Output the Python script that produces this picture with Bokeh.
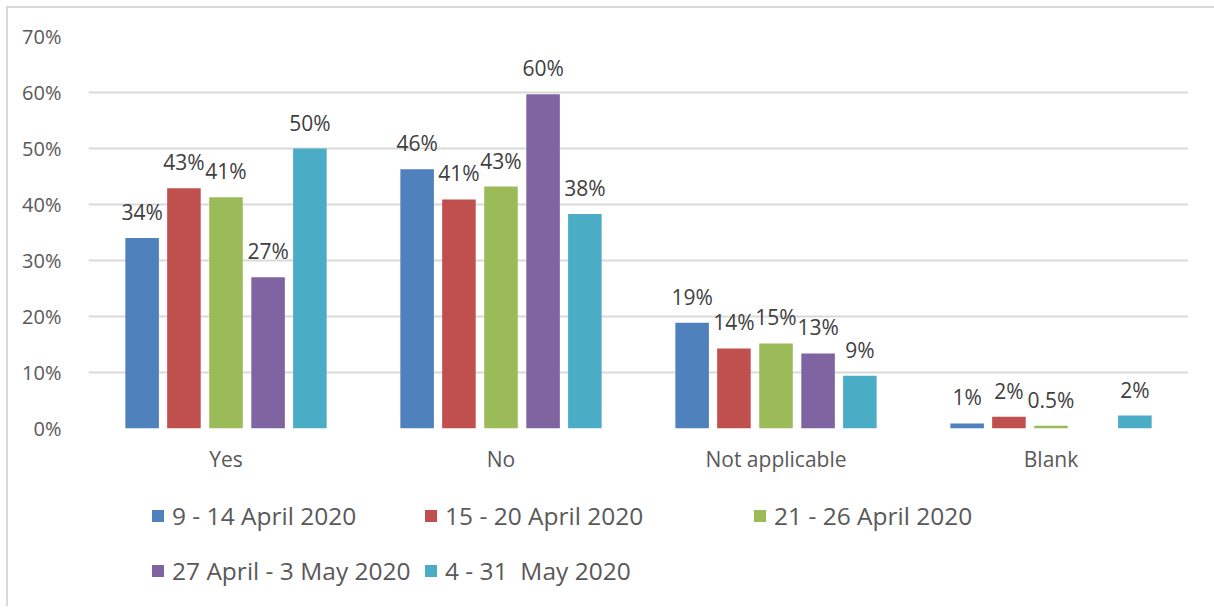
from bokeh.plotting import figure
from bokeh.layouts import column
from bokeh.models import ColumnDataSource, FactorRange, LabelSet, Legend, LegendItem, SingleIntervalTicker, CustomJSTickFormatter
from bokeh.core.properties import value
from bokeh.transform import dodge
from bokeh.embed import file_html
from bokeh.resources import INLINE

categories = ["Yes", "No", "Not applicable", "Blank"]
series_names = ["9 - 14 April 2020", "15 - 20 April 2020", "21 - 26 April 2020",
                "27 April - 3 May 2020", "4 - 31  May 2020"]
colors = ["#4f81bd", "#c0504d", "#9bbb59", "#8064a2", "#4bacc6"]

s1 = [34.0, 46.3, 18.9, 0.9]
s2 = [42.9, 40.9, 14.3, 2.1]
s3 = [41.3, 43.2, 15.2, 0.5]
s4 = [27.0, 59.7, 13.4, 0.0]
s5 = [50.0, 38.3, 9.4, 2.3]

l1 = ["34%", "46%", "19%", "1%"]
l2 = ["43%", "41%", "14%", "2%"]
l3 = ["41%", "43%", "15%", "0.5%"]
l4 = ["27%", "60%", "13%", ""]
l5 = ["50%", "38%", "9%", "2%"]

series = [s1, s2, s3, s4, s5]
labels = [l1, l2, l3, l4, l5]

FONT = "Open Sans"
TXT = "#595959"
W = 1206

p = figure(x_range=FactorRange(*categories, range_padding=0), y_range=(0, 70),
           width=W, height=482, output_backend="svg", toolbar_location=None,
           min_border_left=80, min_border_right=26, min_border_top=28, min_border_bottom=62)
p.x_range.range_padding = 0

offsets = [-0.305, -0.153, 0.0, 0.153, 0.305]
for i in range(5):
    src = ColumnDataSource(dict(cat=categories, val=series[i], lab=labels[i]))
    p.vbar(x=dodge("cat", offsets[i], range=p.x_range), top="val", width=0.122,
           source=src, fill_color=colors[i], line_color=None)
    ls = LabelSet(x=dodge("cat", offsets[i], range=p.x_range), y="val", text="lab",
                  source=src, text_align="center", text_baseline="alphabetic",
                  y_offset=18, text_font=value(FONT), text_font_size=value("21px"),
                  text_color="#404040")
    p.add_layout(ls)

p.yaxis.ticker = SingleIntervalTicker(interval=10)
p.yaxis.formatter = CustomJSTickFormatter(code="return tick.toFixed(0) + '%';")
p.yaxis.axis_line_color = None
p.yaxis.major_tick_line_color = None
p.yaxis.minor_tick_line_color = None
p.yaxis.major_label_text_font = FONT
p.yaxis.major_label_text_font_size = "20px"
p.yaxis.major_label_text_color = TXT
p.yaxis.major_label_standoff = 21

p.xaxis.axis_line_color = None
p.xaxis.major_tick_line_color = None
p.xaxis.major_label_text_font = FONT
p.xaxis.major_label_text_font_size = "21px"
p.xaxis.major_label_text_color = TXT
p.xaxis.major_label_standoff = 10

p.xgrid.grid_line_color = None
p.ygrid.grid_line_color = "#d9d9d9"
p.ygrid.grid_line_width = 2
p.outline_line_color = None

# legend strip (its frame is aligned with the main frame by the column layout)
q = figure(width=W, height=116, x_range=(0, 1), y_range=(0, 1), output_backend="svg",
           toolbar_location=None, x_axis_location=None, y_axis_location=None,
           min_border_left=80, min_border_right=26, min_border_top=0, min_border_bottom=0)
q.grid.grid_line_color = None
q.outline_line_color = None

legend_pos = [(62, 74), (335, 74), (664, 74), (62, 19), (335, 19)]
for i in range(5):
    dummy = q.vbar(x=[-10], top=[0], bottom=[0], width=0.1, fill_color=colors[i], line_color=None)
    lg = Legend(items=[LegendItem(label=series_names[i], renderers=[dummy])],
                location=legend_pos[i], orientation="horizontal",
                label_text_font=FONT, label_text_font_size="24.5px", label_text_color=TXT,
                glyph_width=15, glyph_height=15, label_standoff=7, spacing=0,
                border_line_color=None, background_fill_alpha=0, padding=0, margin=0)
    q.add_layout(lg, "center")

layout = column(p, q, spacing=0)
layout.margin = (6, 0, 0, 6)
layout.styles = {"border-left": "2px solid #d9d9d9", "border-top": "2px solid #d9d9d9"}

open("out.html", "w").write(file_html(layout, INLINE))
